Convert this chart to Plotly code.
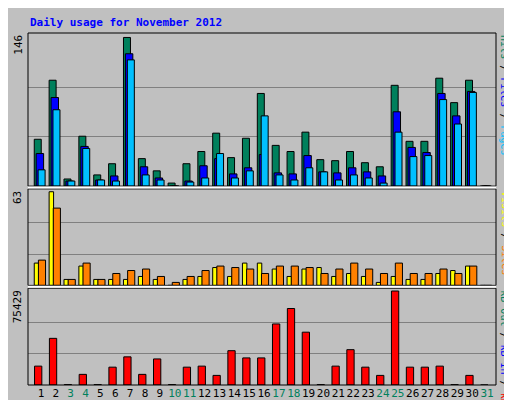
import plotly.graph_objects as go
from plotly.subplots import make_subplots

days = list(range(1, 32))
weekend = [3, 4, 10, 11, 17, 18, 24, 25, 31]

hits = [46, 104, 7, 49, 11, 22, 146, 27, 15, 3, 22, 34, 52, 28, 47, 91,
        40, 34, 53, 26, 25, 34, 23, 19, 99, 44, 44, 106, 82, 104, 0]
files = [32, 87, 5, 39, 6, 10, 130, 19, 8, 0, 5, 20, 27, 12, 18, 31,
         13, 12, 30, 14, 13, 18, 14, 10, 73, 38, 33, 91, 69, 93, 0]
pages = [16, 75, 5, 37, 6, 5, 124, 11, 6, 0, 4, 8, 32, 8, 15, 69,
         11, 6, 18, 14, 6, 11, 8, 3, 53, 29, 30, 85, 61, 92, 0]
visits = [15, 63, 4, 13, 4, 4, 4, 6, 4, 0, 4, 6, 12, 6, 15, 15,
          11, 6, 11, 12, 6, 8, 6, 2, 6, 4, 4, 8, 10, 13, 0]
sites = [17, 52, 4, 15, 4, 8, 10, 11, 6, 2, 6, 10, 13, 12, 11, 8,
         13, 13, 12, 8, 11, 15, 11, 8, 15, 8, 8, 11, 8, 13, 0]
kbytes = [15141, 37440, 300, 8534, 300, 14315, 22574, 8534, 20922, 300,
          14315, 15141, 7708, 27529, 21748, 21748, 49002, 61390, 42395, 300,
          15141, 28355, 14315, 7708, 75429, 14315, 14315, 15141, 300, 7708, 0]

max_top, max_mid, max_bot = 146, 63, 75429
GRID = "#808080"
MONO = "DejaVu Sans Mono"

fig = make_subplots(rows=3, cols=1, shared_xaxes=True, vertical_spacing=0.0)

def bars(y, color, off, w, row):
    fig.add_trace(go.Bar(x=days, y=y, offset=off, width=w, marker_color=color,
                         marker_line=dict(color="black", width=1)), row=row, col=1)

bars(hits, "#00805C", -0.45, 0.47, 1)
bars(files, "#0000FF", -0.32, 0.50, 1)
bars(pages, "#00C0FF", -0.19, 0.47, 1)
bars(visits, "#FFFF00", -0.45, 0.30, 2)
bars(sites, "#FF8000", -0.17, 0.48, 2)
bars(kbytes, "#FF0000", -0.43, 0.49, 3)

ticktext = [f"<span style='color:#00805C'>{d}</span>" if d in weekend else str(d) for d in days]

fig.update_layout(
    width=512, height=400, showlegend=False, barmode="overlay",
    paper_bgcolor="#C0C0C0", plot_bgcolor="#C0C0C0",
    margin=dict(l=20, r=24, t=25, b=23, autoexpand=False),
    font=dict(family=MONO, size=11, color="black"),
)
domains = [[0.565, 1.0], [0.283, 0.557], [0.0, 0.275]]
maxes = [max_top, max_mid, max_bot]
for i, (dom, m) in enumerate(zip(domains, maxes), start=1):
    fig.update_yaxes(domain=dom, range=[0, m * 1.03], tickvals=[m / 3, 2 * m / 3],
                     showticklabels=False, gridcolor=GRID, gridwidth=1, zeroline=False,
                     row=i, col=1)
    fig.update_xaxes(range=[0.13, 31.6], showgrid=False, zeroline=False, row=i, col=1)
fig.update_xaxes(tickvals=days, ticktext=ticktext, ticks="", tickangle=0,
                 tickfont=dict(size=11), row=3, col=1)

# panel frames
for y0, y1 in domains:
    fig.add_shape(type="rect", xref="paper", yref="paper", x0=0, x1=1, y0=y0, y1=y1,
                  line=dict(color="black", width=1))
fig.add_shape(type="line", xref="paper", yref="paper", x0=0, x1=1, y0=0.561, y1=0.561,
              line=dict(color="white", width=2))
fig.add_shape(type="line", xref="paper", yref="paper", x0=0, x1=1, y0=0.279, y1=0.279,
              line=dict(color="white", width=2))

# left max labels
for (y0, y1), m in zip(domains, maxes):
    fig.add_annotation(x=-0.004, y=y1, xref="paper", yref="paper", text=str(m),
                       textangle=-90, showarrow=False, xanchor="right", yanchor="top",
                       font=dict(size=11))

def side(parts, y):
    txt = " / ".join(f"<span style='color:{c}'>{t}</span>" for t, c in parts)
    fig.add_annotation(x=1.003, y=y, xref="paper", yref="paper", text=txt,
                       textangle=90, showarrow=False, xanchor="left", yanchor="top",
                       font=dict(size=10))

side([("Hits", "#00805C"), ("Files", "#0000FF"), ("Pages", "#00C0FF")], 1.0)
side([("Visits", "#FFFF00"), ("Sites", "#FF8000")], 0.557)
side([("kB Out", "#00805C"), ("kB In", "#0000FF"), ("kB F", "#FF0000")], 0.275)

fig.add_annotation(x=0, y=1.0, xref="paper", yref="paper", yshift=11,
                   text="<b>Daily usage for November 2012</b>", showarrow=False,
                   xanchor="left", yanchor="middle", font=dict(size=11, color="#0000FF"))

fig.write_html("out.html")
